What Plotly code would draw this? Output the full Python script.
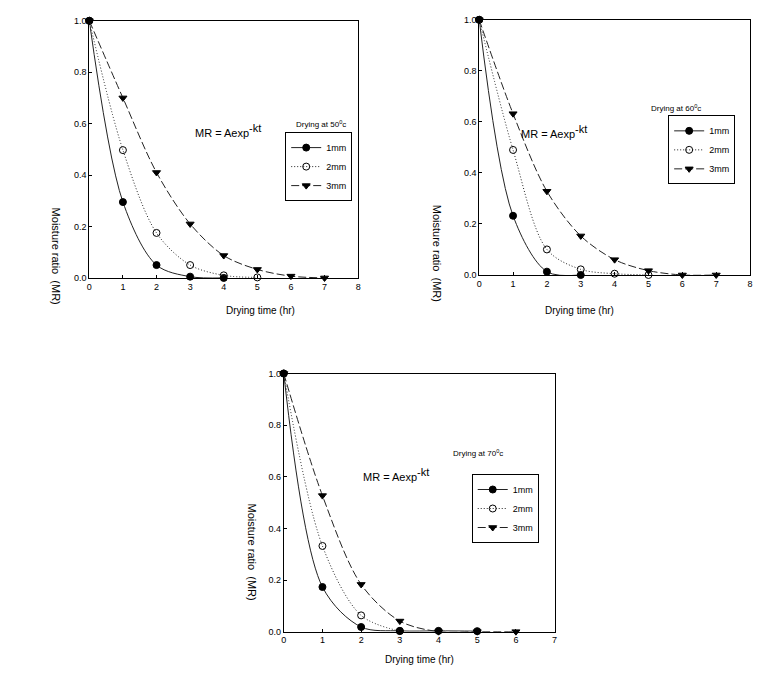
import plotly.graph_objects as go

W, H = 758, 680

# ---------------- data ----------------
sizes = ["1mm", "2mm", "3mm"]

# 50 °C
t50_1 = [0, 1, 2, 3, 4]
mr50_1 = [1.0, 0.295, 0.05, 0.005, 0.0]
t50_2 = [0, 1, 2, 3, 4, 5]
mr50_2 = [1.0, 0.497, 0.175, 0.05, 0.01, 0.002]
t50_3 = [0, 1, 2, 3, 4, 5, 6, 7]
mr50_3 = [1.0, 0.70, 0.41, 0.21, 0.087, 0.033, 0.007, 0.0]

# 60 °C
t60_1 = [0, 1, 2, 3]
mr60_1 = [1.0, 0.232, 0.013, 0.0]
t60_2 = [0, 1, 2, 3, 4, 5]
mr60_2 = [1.0, 0.49, 0.10, 0.022, 0.005, 0.0]
t60_3 = [0, 1, 2, 3, 4, 5, 6, 7]
mr60_3 = [1.0, 0.632, 0.328, 0.153, 0.06, 0.017, 0.0, 0.0]

# 70 °C
t70_1 = [0, 1, 2, 3, 4, 5]
mr70_1 = [1.0, 0.173, 0.018, 0.003, 0.003, 0.002]
t70_2 = [0, 1, 2, 3]
mr70_2 = [1.0, 0.332, 0.063, 0.002]
t70_3 = [0, 1, 2, 3, 4, 5, 6]
mr70_3 = [1.0, 0.527, 0.183, 0.041, 0.0, 0.0, 0.0]

y_ticks = [0.0, 0.2, 0.4, 0.6, 0.8, 1.0]
temps = ["50", "60", "70"]
x_max = [8, 8, 7]

# ---------------- layout helpers ----------------
FONT = "Arial, Liberation Sans, sans-serif"


def px_x(x):
    return x / W


def px_y(y):
    return 1 - y / H


# panel boxes in pixels: (left, right, top, bottom)
boxes = [(87, 358, 16, 277), (480, 753, 15, 274), (283, 556, 374, 636)]

styles = [
    dict(dash="solid", symbol="circle"),
    dict(dash="1px,2px", symbol="circle-open"),
    dict(dash="8px,3px", symbol="triangle-down"),
]

data_sets = [
    [(t50_1, mr50_1), (t50_2, mr50_2), (t50_3, mr50_3)],
    [(t60_1, mr60_1), (t60_2, mr60_2), (t60_3, mr60_3)],
    [(t70_1, mr70_1), (t70_2, mr70_2), (t70_3, mr70_3)],
]

fig = go.Figure()
legend_names = ["legend", "legend2", "legend3"]

for p, series in enumerate(data_sets):
    xa = "x" if p == 0 else f"x{p+1}"
    ya = "y" if p == 0 else f"y{p+1}"
    for s, (tx, ty) in enumerate(series):
        st = styles[s]
        fig.add_trace(go.Scatter(
            x=tx, y=ty, mode="lines+markers", name=sizes[s],
            xaxis=xa, yaxis=ya, legend=legend_names[p],
            line=dict(color="#222222", width=1, dash=st["dash"],
                      shape="spline", smoothing=0.9),
            marker=dict(symbol=st["symbol"], size=7, color="black",
                        line=dict(color="black", width=1)),
            cliponaxis=False,
        ))

layout = dict(
    width=W, height=H, margin=dict(l=0, r=0, t=0, b=0),
    paper_bgcolor="white", plot_bgcolor="white",
    font=dict(family=FONT, size=9, color="black"),
    showlegend=True,
)

axis_common = dict(showgrid=False, zeroline=False, showline=True,
                   linecolor="black", linewidth=1, mirror=True,
                   ticks="inside", ticklen=3, tickwidth=1, tickcolor="black",
                   tickfont=dict(family=FONT, size=9, color="black"))

annotations = []
legend_pos = [(352, 129), (738, 112), (540, 476)]
mr_text_pos = [(192, 117), (591, 118), (396, 487)]
dry_text_pos = [(321, 114), (706, 97), (506, 462)]
ytitle_pos = [(45, 255), (437, 252), (243, 606)]
xtitle_pos = [(223, 310), (618, 310), (420, 672)]

for p in range(3):
    l, r, t, b = boxes[p]
    sx = "" if p == 0 else str(p + 1)
    layout[f"xaxis{sx}"] = dict(
        axis_common, domain=[px_x(l), px_x(r)], range=[0, x_max[p]],
        dtick=1, tick0=0, anchor=f"y{sx}")
    layout[f"yaxis{sx}"] = dict(
        axis_common, domain=[px_y(b), px_y(t)], range=[0, 1],
        tickvals=y_ticks, tickformat=".1f", anchor=f"x{sx}")
    lx, ly = legend_pos[p]
    layout[legend_names[p]] = dict(
        x=px_x(lx), y=px_y(ly), xanchor="right", yanchor="top",
        xref="paper", yref="paper",
        bordercolor="black", borderwidth=1, bgcolor="white",
        font=dict(family=FONT, size=9, color="black"),
        itemwidth=30, tracegroupgap=0)
    mx, my = mr_text_pos[p]
    annotations.append(dict(
        x=px_x(mx), y=px_y(my), xref="paper", yref="paper",
        text="MR = Aexp<sup><span style='font-size:11px'>-kt</span></sup>",
        showarrow=False,
        font=dict(family=FONT, size=11, color="black")))
    dx, dy = dry_text_pos[p]
    annotations.append(dict(
        x=px_x(dx), y=px_y(dy), xref="paper", yref="paper",
        text=f"Drying at {temps[p]}<sup>0</sup>c", showarrow=False,
        font=dict(family=FONT, size=8, color="black")))
    yx, yy = ytitle_pos[p]
    annotations.append(dict(
        x=px_x(yx), y=px_y(yy), xref="paper", yref="paper",
        text="Moisture ratio  (MR)", showarrow=False, textangle=90,
        font=dict(family=FONT, size=11, color="black")))
    tx_, ty_ = xtitle_pos[p]
    annotations.append(dict(
        x=px_x(tx_), y=px_y(ty_), xref="paper", yref="paper",
        text="Drying time (hr)", showarrow=False,
        font=dict(family=FONT, size=10, color="black")))

layout["annotations"] = annotations
fig.update_layout(**layout)
fig.write_html("out.html")
